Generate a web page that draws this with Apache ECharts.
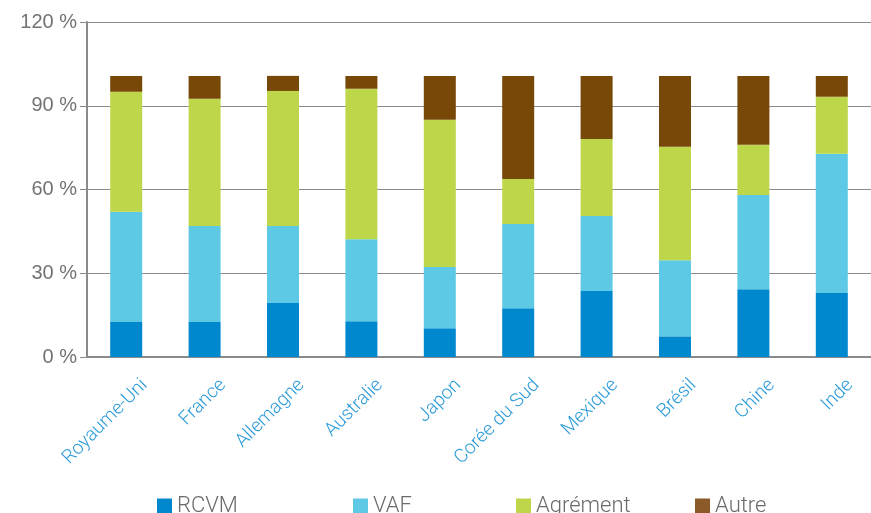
<!DOCTYPE html>
<html>
<head>
<meta charset="utf-8">
<script src="https://cdn.jsdelivr.net/npm/echarts@6/dist/echarts.min.js"></script>
<style>
  html, body { margin: 0; padding: 0; background: #fff; }
  #chart { width: 871px; height: 513px; }
</style>
</head>
<body>
<div id="chart"></div>
<script>
// pays
var categories = ['Royaume-Uni', 'France', 'Allemagne', 'Australie', 'Japon', 'Corée du Sud', 'Mexique', 'Brésil', 'Chine', 'Inde'];
// parts en %
var rcvm     = [12.5, 12.5, 19.3, 12.8, 10.3, 17.5, 23.6, 7.4, 24.3, 22.9];
var vaf      = [39.5, 34.4, 27.6, 29.4, 21.9, 30.1, 26.9, 27.3, 33.7, 49.9];
var agrement = [43.0, 45.6, 48.4, 53.9, 52.8, 16.2, 27.6, 40.6, 18.0, 20.4];
var autre    = [5.7, 8.2, 5.4, 4.6, 15.7, 36.9, 22.6, 25.4, 24.7, 7.5];
var yTicks = [0, 30, 60, 90, 120];

var colors = ['#0088cf', '#5dc9e4', '#bed74a', '#774807'];
var names = ['RCVM', 'VAF', 'Agrément', 'Autre'];
var legendLeft = [157, 353, 516, 695];
var font = 'Roboto, "Liberation Sans", sans-serif';

var myChart = echarts.init(document.getElementById('chart'));

var legends = names.map(function (n, i) {
    return {
        left: legendLeft[i],
        top: 495,
        padding: 0,
        itemWidth: 15,
        itemHeight: 15,
        itemGap: 5,
        icon: 'rect',
        textStyle: { color: '#6b6b6b', fontSize: 22, fontFamily: font, fontWeight: 300, padding: [1, 0, 0, 0] },
        data: [{ name: n, itemStyle: { color: i === 3 ? '#8b5a28' : colors[i] } }]
    };
});

function bar(name, data, color) {
    return {
        name: name,
        type: 'bar',
        stack: 'total',
        barWidth: 32,
        data: data,
        itemStyle: { color: color }
    };
}

var option = {
    animation: false,
    legend: legends,
    grid: {
        left: 87,
        top: 22,
        width: 788,
        bottom: 156,
        containLabel: false
    },
    xAxis: {
        type: 'category',
        data: categories,
        axisLine: { lineStyle: { color: '#8a8a8a', width: 2 } },
        axisTick: { show: false },
        axisLabel: {
            rotate: 45,
            interval: 0,
            margin: 7,
            verticalAlign: 'top',
            lineHeight: 52,
            color: '#2a9ad8',
            fontSize: 19,
            fontFamily: font,
            fontWeight: 300
        }
    },
    yAxis: {
        type: 'value',
        min: yTicks[0],
        max: yTicks[yTicks.length - 1],
        interval: 30,
        axisLine: { show: true, lineStyle: { color: '#8a8a8a', width: 2 } },
        axisTick: { show: true, length: 7, lineStyle: { color: '#8a8a8a', width: 1 } },
        splitLine: { lineStyle: { color: '#8c8c8c', width: 1.2 } },
        axisLabel: {
            margin: 10,
            color: '#737373',
            fontSize: 20,
            fontFamily: '"Liberation Sans", sans-serif',
            formatter: '{value} %'
        }
    },
    series: [
        bar(names[0], rcvm, colors[0]),
        bar(names[1], vaf, colors[1]),
        bar(names[2], agrement, colors[2]),
        bar(names[3], autre, colors[3])
    ]
};

option && myChart.setOption(option);
window.addEventListener('resize', function () {
    myChart.resize();
});
</script>
</body>
</html>
